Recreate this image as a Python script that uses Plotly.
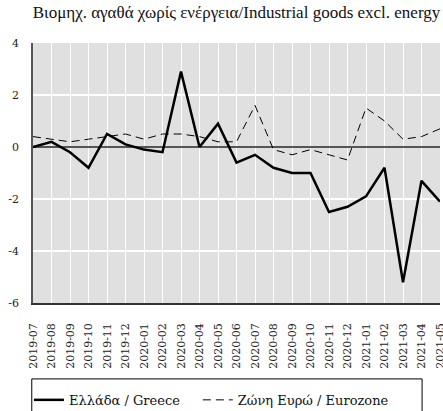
import plotly.graph_objects as go

months = ["2019-07", "2019-08", "2019-09", "2019-10", "2019-11", "2019-12",
          "2020-01", "2020-02", "2020-03", "2020-04", "2020-05", "2020-06",
          "2020-07", "2020-08", "2020-09", "2020-10", "2020-11", "2020-12",
          "2021-01", "2021-02", "2021-03", "2021-04", "2021-05"]

greece = [0.0, 0.2, -0.2, -0.8, 0.5, 0.1, -0.1, -0.2, 2.9, 0.0, 0.9, -0.6,
          -0.3, -0.8, -1.0, -1.0, -2.5, -2.3, -1.9, -0.8, -5.2, -1.3, -2.1]

eurozone = [0.4, 0.3, 0.2, 0.3, 0.4, 0.5, 0.3, 0.5, 0.5, 0.4, 0.2, 0.2,
            1.6, -0.1, -0.3, -0.1, -0.3, -0.5, 1.5, 1.0, 0.3, 0.4, 0.7]

y_ticks = [-6, -4, -2, 0, 2, 4]

TITLE_FONT = "Liberation Serif"
FONT = "DejaVu Serif"

fig = go.Figure()
fig.add_trace(go.Scatter(
    x=months, y=greece, mode="lines", name="Ελλάδα / Greece",
    line=dict(color="black", width=2.5), legend="legend",
))
fig.add_trace(go.Scatter(
    x=months, y=eurozone, mode="lines", name="Ζώνη Ευρώ / Eurozone",
    line=dict(color="black", width=1, dash="8px,5px"), legend="legend2",
))

# frame around the legend, running off the bottom edge of the page
fig.add_shape(
    type="rect", xref="paper", yref="paper",
    x0=-0.003, x1=0.956, y0=-0.292, y1=-0.47,
    line=dict(color="black", width=1), fillcolor="rgba(0,0,0,0)",
    layer="above",
)

legend_common = dict(
    orientation="h", xanchor="left", y=-0.315, yanchor="top",
    borderwidth=0, bgcolor="rgba(0,0,0,0)",
    font=dict(family=FONT, size=13, color="#111111"),
    itemwidth=30,
)

fig.update_layout(
    width=443, height=411,
    margin=dict(l=33, r=3, t=43, b=108, autoexpand=False),
    paper_bgcolor="white",
    plot_bgcolor="#e0e0e0",
    font=dict(family=FONT, color="#222222", size=12),
    title=dict(
        text="Βιομηχ. αγαθά χωρίς ενέργεια/Industrial goods excl. energy",
        xref="paper", x=0.5, xanchor="center", y=0.985, yanchor="top",
        font=dict(family=TITLE_FONT, size=17, color="#111111"),
    ),
    showlegend=True,
    legend=dict(x=-0.01, **legend_common),
    legend2=dict(x=0.405, **legend_common),
    xaxis=dict(
        type="category", range=[0, len(months) - 1],
        tickangle=-90, tickfont=dict(family=FONT, size=11),
        ticklabelstandoff=14,
        showgrid=True, gridcolor="white", gridwidth=1,
        showline=True, linecolor="#333333", linewidth=1.5,
        ticks="", ticklen=0,
    ),
    yaxis=dict(
        range=[-6, 4], tickvals=y_ticks, ticktext=[str(v) for v in y_ticks],
        showgrid=True, gridcolor="white", gridwidth=1.5,
        zeroline=True, zerolinecolor="#555555", zerolinewidth=1.5,
        showline=True, linecolor="#555555", linewidth=1.5,
        ticks="", tickfont=dict(family=FONT, size=11),
        ticklabelstandoff=10,
    ),
)

fig.write_html("out.html")
